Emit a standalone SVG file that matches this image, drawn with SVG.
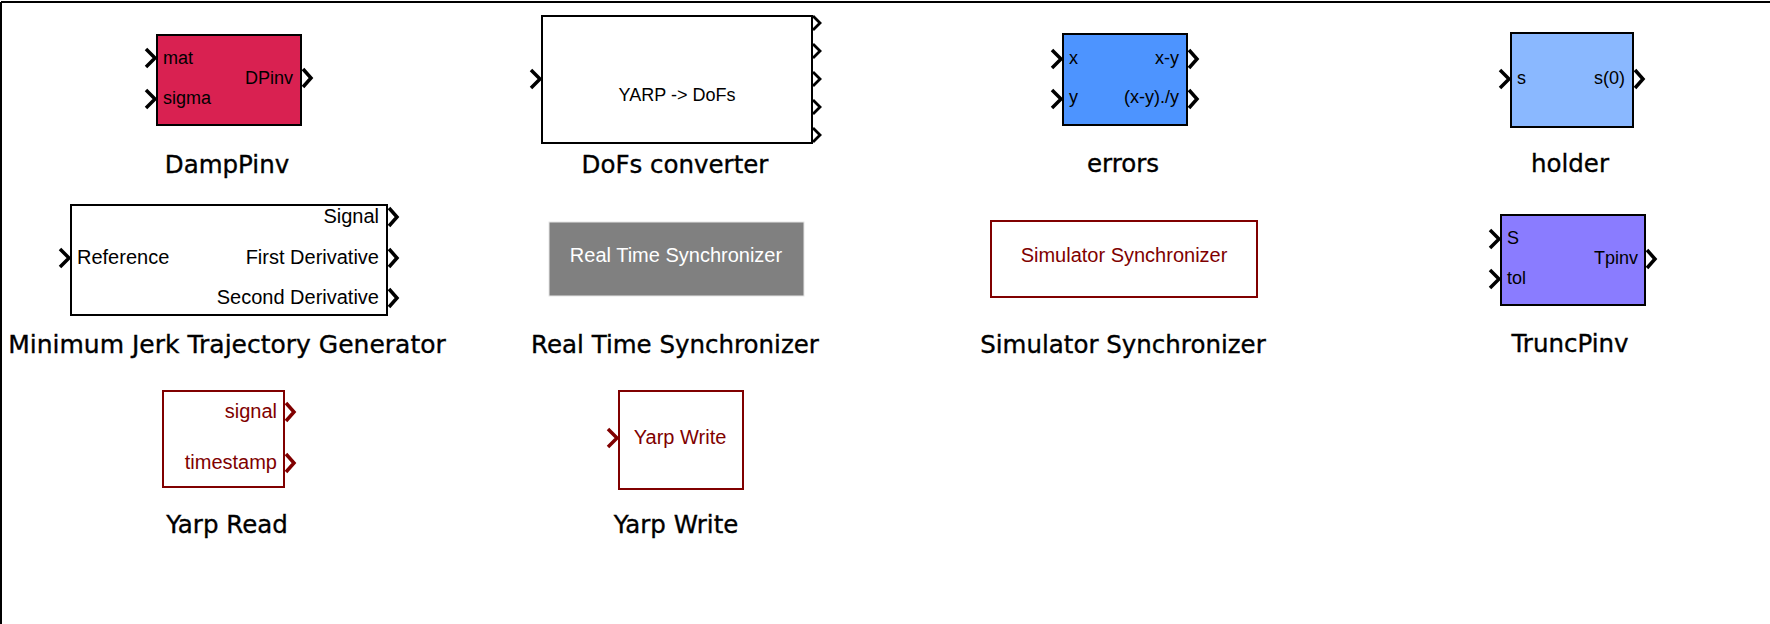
<svg xmlns="http://www.w3.org/2000/svg" width="1770" height="624" viewBox="0 0 1770 624">
<style>
.box{stroke:#000;stroke-width:2}
.rbox{fill:#fff;stroke:#800000;stroke-width:2}
.pt{fill:none;stroke:#000;stroke-width:3.5;stroke-linejoin:miter}
.pts{fill:none;stroke:#000;stroke-width:2.8}
.rpt{fill:none;stroke:#800000;stroke-width:3.5}
.lbl{font-family:"Liberation Sans",Arial,sans-serif;font-size:18px;fill:#000}
.lbl20{font-family:"Liberation Sans",Arial,sans-serif;font-size:20px;fill:#000}
.rlbl{font-family:"Liberation Sans",Arial,sans-serif;font-size:20px;fill:#800000}
.ttl{font-family:"DejaVu Sans",sans-serif;font-size:24.5px;fill:#000;stroke:#000;stroke-width:0.35;text-anchor:middle}
.e{text-anchor:end}
.m{text-anchor:middle}
</style>
<rect x="0" y="0" width="1770" height="624" fill="#fff"/>
<path d="M1,2 H1770 M1,2 V624" fill="none" stroke="#000" stroke-width="2"/>

<g id="DampPinv">
<rect class="box" x="157" y="35" width="144" height="90" fill="#D92151"/>
<path class="pt" d="M146,49 L155,58 L146,67 M146,90 L155,99 L146,108 M303,69 L311,78 L303,87"/>
<text class="lbl" x="163" y="64">mat</text>
<text class="lbl" x="163" y="104">sigma</text>
<text class="lbl e" x="293" y="84">DPinv</text>
<text class="ttl" x="227" y="173">DampPinv</text>
</g>

<g id="DoFsConverter">
<rect class="box" x="542" y="16" width="270" height="127" fill="#fff"/>
<path class="pt" d="M531,70 L540,79 L531,88"/>
<path class="pts" d="M813,16 L820,23 L813,30 M813,44 L820,51 L813,58 M813,72 L820,79 L813,86 M813,100 L820,107 L813,114 M813,128 L820,135 L813,142"/>
<text class="lbl m" x="677" y="101">YARP -&gt; DoFs</text>
<text class="ttl" x="675" y="173">DoFs converter</text>
</g>

<g id="errors">
<rect class="box" x="1063" y="34" width="124" height="91" fill="#4D94FF"/>
<path class="pt" d="M1052,50 L1061,59 L1052,68 M1052,90 L1061,99 L1052,108 M1189,50 L1197,59 L1189,68 M1189,90 L1197,99 L1189,108"/>
<text class="lbl" x="1069" y="64">x</text>
<text class="lbl" x="1069" y="103">y</text>
<text class="lbl e" x="1179" y="64">x-y</text>
<text class="lbl e" x="1179" y="103">(x-y)./y</text>
<text class="ttl" x="1123" y="172">errors</text>
</g>

<g id="holder">
<rect class="box" x="1511" y="33" width="122" height="94" fill="#8AB8FF"/>
<path class="pt" d="M1500,70 L1509,79 L1500,88 M1635,70 L1643,79 L1635,88"/>
<text class="lbl" x="1517" y="84">s</text>
<text class="lbl e" x="1625" y="84">s(0)</text>
<text class="ttl" x="1570" y="172">holder</text>
</g>

<g id="MinimumJerk">
<rect class="box" x="71" y="205" width="316" height="110" fill="#fff"/>
<path class="pt" d="M60,249 L69,258 L60,267 M389,208 L397,217 L389,226 M389,249 L397,258 L389,267 M389,289 L397,298 L389,307"/>
<text class="lbl20" x="77" y="264">Reference</text>
<text class="lbl20 e" x="379" y="223">Signal</text>
<text class="lbl20 e" x="379" y="264">First Derivative</text>
<text class="lbl20 e" x="379" y="304">Second Derivative</text>
<text class="ttl" x="227" y="353" style="font-size:25px">Minimum Jerk Trajectory Generator</text>
</g>

<g id="RealTimeSync">
<rect x="549" y="222" width="255" height="74" fill="#808080" stroke="#e6e6e6" stroke-width="1"/>
<text class="lbl20 m" x="676" y="262" style="fill:#fff">Real Time Synchronizer</text>
<text class="ttl" x="675" y="353">Real Time Synchronizer</text>
</g>

<g id="SimulatorSync">
<rect class="rbox" x="991" y="221" width="266" height="76"/>
<text class="rlbl m" x="1124" y="262">Simulator Synchronizer</text>
<text class="ttl" x="1123" y="353">Simulator Synchronizer</text>
</g>

<g id="TruncPinv">
<rect class="box" x="1501" y="215" width="144" height="90" fill="#8A7CFF"/>
<path class="pt" d="M1490,230 L1499,239 L1490,248 M1490,270 L1499,279 L1490,288 M1647,250 L1655,259 L1647,268"/>
<text class="lbl" x="1507" y="244">S</text>
<text class="lbl" x="1507" y="284">tol</text>
<text class="lbl e" x="1638" y="264">Tpinv</text>
<text class="ttl" x="1570" y="352">TruncPinv</text>
</g>

<g id="YarpRead">
<rect class="rbox" x="163" y="391" width="121" height="96"/>
<path class="rpt" d="M286,403 L294,412 L286,421 M286,454 L294,463 L286,472"/>
<text class="rlbl e" x="277" y="418">signal</text>
<text class="rlbl e" x="277" y="469">timestamp</text>
<text class="ttl" x="227" y="533">Yarp Read</text>
</g>

<g id="YarpWrite">
<rect class="rbox" x="619" y="391" width="124" height="98"/>
<path class="rpt" d="M608,429 L617,438 L608,447"/>
<text class="rlbl m" x="680" y="444">Yarp Write</text>
<text class="ttl" x="676" y="533">Yarp Write</text>
</g>

<g id="connectors"></g>
</svg>
